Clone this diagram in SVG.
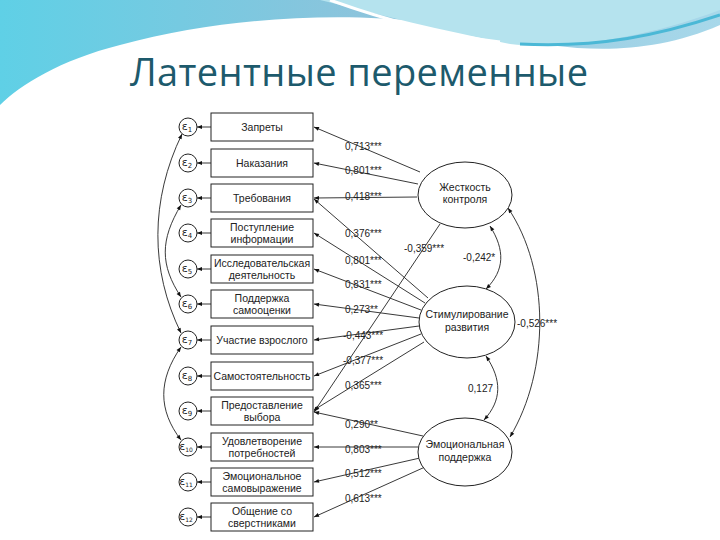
<svg xmlns="http://www.w3.org/2000/svg" width="720" height="540" viewBox="0 0 720 540">
<defs>
<linearGradient id="g1" x1="0" y1="0" x2="1" y2="0"><stop offset="0" stop-color="#5fd0e6"/><stop offset="0.5" stop-color="#8cc4dc"/><stop offset="1" stop-color="#a8d8ea"/></linearGradient>
<marker id="ah" viewBox="0 0 10 10" refX="10" refY="5" markerWidth="7" markerHeight="5" orient="auto-start-reverse" markerUnits="userSpaceOnUse"><path d="M0,1 L10,5 L0,9 z" fill="#111"/></marker>
</defs>
<style>
.box{fill:#fff;stroke:#222;stroke-width:1}
.ell{fill:#fff;stroke:#222;stroke-width:1}
.t{font-family:"Liberation Sans",Arial,sans-serif;font-size:10.5px;fill:#222;text-anchor:middle}
.lt{font-family:"Liberation Sans",Arial,sans-serif;font-size:10px;fill:#222}
.e{font-family:"DejaVu Sans",sans-serif;font-size:11px;fill:#222;text-anchor:middle}
.c line,.c path{stroke:#222;stroke-width:0.9;fill:none}
.a{marker-end:url(#ah)}
.d{marker-start:url(#ah);marker-end:url(#ah)}
</style>
<rect width="720" height="540" fill="#fff"/>
<path d="M0,0 H720 V25 C640,60 560,50 500,35 C400,10 250,10 120,45 C60,60 20,85 0,105 Z" fill="url(#g1)"/>
<path d="M320,0 C380,15 440,30 510,44 C560,50 640,40 720,10 V0 Z" fill="#b5e3ee"/>
<path d="M330,0 C380,18 440,35 500,42" stroke="#fff" stroke-width="3" fill="none"/>
<path d="M520,44 C600,48 660,35 720,15" stroke="#4bb8d6" stroke-width="3" fill="none"/>
<text x="130" y="86" font-family="'Open Sans','Noto Sans',sans-serif" font-size="38" fill="#1d5a6c" textLength="458">Латентные переменные</text>

<g class="c" id="connectors">
<line class="a" x1="420" y1="172" x2="314" y2="127"/>
<line class="a" x1="418" y1="184" x2="314" y2="163"/>
<line class="a" x1="417" y1="197" x2="314" y2="198"/>
<line class="a" x1="428" y1="298" x2="314" y2="199"/>
<line class="a" x1="425" y1="303" x2="314" y2="233"/>
<line class="a" x1="421" y1="310" x2="314" y2="269"/>
<line class="a" x1="419" y1="318" x2="314" y2="304"/>
<line class="a" x1="419" y1="326" x2="314" y2="340"/>
<line class="a" x1="421" y1="334" x2="314" y2="376"/>
<line class="a" x1="424" y1="342" x2="314" y2="410"/>
<line class="a" x1="440" y1="224" x2="314" y2="412"/>
<line class="a" x1="423" y1="436" x2="314" y2="412"/>
<line class="a" x1="418" y1="447" x2="314" y2="447"/>
<line class="a" x1="420" y1="458" x2="314" y2="482"/>
<line class="a" x1="425" y1="467" x2="314" y2="517"/>
<line class="a" x1="211" y1="127" x2="197" y2="127"/>
<line class="a" x1="211" y1="163" x2="197" y2="163"/>
<line class="a" x1="211" y1="198" x2="197" y2="198"/>
<line class="a" x1="211" y1="233" x2="197" y2="233"/>
<line class="a" x1="211" y1="269" x2="197" y2="269"/>
<line class="a" x1="211" y1="304" x2="197" y2="304"/>
<line class="a" x1="211" y1="340" x2="197" y2="340"/>
<line class="a" x1="211" y1="376" x2="197" y2="376"/>
<line class="a" x1="211" y1="411" x2="197" y2="411"/>
<line class="a" x1="211" y1="447" x2="197" y2="447"/>
<line class="a" x1="211" y1="482" x2="197" y2="482"/>
<line class="a" x1="211" y1="517" x2="197" y2="517"/>
<path class="d" d="M182,134 C150,200 150,270 181,333"/>
<path class="d" d="M181,205 C160,240 160,265 181,297"/>
<path class="d" d="M181,347 C158,380 158,410 181,440"/>
<path class="d" d="M490,226 C505,250 505,270 486,289"/>
<path class="d" d="M486,356 C502,380 502,400 484,420"/>
<path class="d" d="M508,208 C550,270 550,370 510,437"/>
</g>
<g id="labels" class="lt">
<text x="345" y="150">0,713***</text>
<text x="345" y="174">0,801***</text>
<text x="345" y="200">0,418***</text>
<text x="345" y="237">0,376***</text>
<text x="404" y="252">-0,359***</text>
<text x="463" y="261">-0,242*</text>
<text x="345" y="264">0,801***</text>
<text x="345" y="288">0,831***</text>
<text x="345" y="313">0,273**</text>
<text x="343" y="339">-0,443***</text>
<text x="343" y="364">-0,377***</text>
<text x="345" y="389">0,365***</text>
<text x="468" y="392">0,127</text>
<text x="517" y="327">-0,526***</text>
<text x="345" y="428">0,290**</text>
<text x="345" y="453">0,803***</text>
<text x="345" y="477">0,512***</text>
<text x="345" y="502">0,613***</text>
</g>
<g id="e1"><circle cx="188" cy="127" r="9" class="ell"/><text class="e" x="187" y="130">ε<tspan font-size="7" dy="2">1</tspan></text></g>
<g id="e2"><circle cx="188" cy="163" r="9" class="ell"/><text class="e" x="187" y="166">ε<tspan font-size="7" dy="2">2</tspan></text></g>
<g id="e3"><circle cx="188" cy="198" r="9" class="ell"/><text class="e" x="187" y="201">ε<tspan font-size="7" dy="2">3</tspan></text></g>
<g id="e4"><circle cx="188" cy="233" r="9" class="ell"/><text class="e" x="187" y="236">ε<tspan font-size="7" dy="2">4</tspan></text></g>
<g id="e5"><circle cx="188" cy="269" r="9" class="ell"/><text class="e" x="187" y="272">ε<tspan font-size="7" dy="2">5</tspan></text></g>
<g id="e6"><circle cx="188" cy="304" r="9" class="ell"/><text class="e" x="187" y="307">ε<tspan font-size="7" dy="2">6</tspan></text></g>
<g id="e7"><circle cx="188" cy="340" r="9" class="ell"/><text class="e" x="187" y="343">ε<tspan font-size="7" dy="2">7</tspan></text></g>
<g id="e8"><circle cx="188" cy="376" r="9" class="ell"/><text class="e" x="187" y="379">ε<tspan font-size="7" dy="2">8</tspan></text></g>
<g id="e9"><circle cx="188" cy="411" r="9" class="ell"/><text class="e" x="187" y="414">ε<tspan font-size="7" dy="2">9</tspan></text></g>
<g id="e10"><circle cx="188" cy="447" r="9" class="ell"/><text class="e" x="186" y="450">ε<tspan font-size="6" dy="2">10</tspan></text></g>
<g id="e11"><circle cx="188" cy="482" r="9" class="ell"/><text class="e" x="186" y="485">ε<tspan font-size="6" dy="2">11</tspan></text></g>
<g id="e12"><circle cx="188" cy="517" r="9" class="ell"/><text class="e" x="186" y="520">ε<tspan font-size="6" dy="2">12</tspan></text></g>

<g id="n1"><rect class="box" x="211" y="113" width="102" height="28"/><text class="t" x="262" y="131">Запреты</text></g>
<g id="n2"><rect class="box" x="211" y="149" width="102" height="28"/><text class="t" x="262" y="167">Наказания</text></g>
<g id="n3"><rect class="box" x="211" y="184" width="102" height="28"/><text class="t" x="262" y="202">Требования</text></g>
<g id="n4"><rect class="box" x="211" y="219" width="102" height="28"/><text class="t" x="262" y="231">Поступление</text><text class="t" x="262" y="243">информации</text></g>
<g id="n5"><rect class="box" x="211" y="255" width="102" height="28"/><text class="t" x="262" y="267">Исследовательская</text><text class="t" x="262" y="279">деятельность</text></g>
<g id="n6"><rect class="box" x="211" y="290" width="102" height="28"/><text class="t" x="262" y="302">Поддержка</text><text class="t" x="262" y="314">самооценки</text></g>
<g id="n7"><rect class="box" x="211" y="326" width="102" height="28"/><text class="t" x="262" y="344">Участие взрослого</text></g>
<g id="n8"><rect class="box" x="211" y="362" width="102" height="28"/><text class="t" x="262" y="380">Самостоятельность</text></g>
<g id="n9"><rect class="box" x="211" y="397" width="102" height="28"/><text class="t" x="262" y="409">Предоставление</text><text class="t" x="262" y="421">выбора</text></g>
<g id="n10"><rect class="box" x="211" y="433" width="102" height="28"/><text class="t" x="262" y="445">Удовлетворение</text><text class="t" x="262" y="457">потребностей</text></g>
<g id="n11"><rect class="box" x="211" y="468" width="102" height="28"/><text class="t" x="262" y="480">Эмоциональное</text><text class="t" x="262" y="492">самовыражение</text></g>
<g id="n12"><rect class="box" x="211" y="503" width="102" height="28"/><text class="t" x="262" y="515">Общение со</text><text class="t" x="262" y="527">сверстниками</text></g>

<g id="L1"><ellipse class="ell" cx="465" cy="195" rx="47" ry="33"/><text class="t" x="465" y="191">Жесткость</text><text class="t" x="465" y="203">контроля</text></g>
<g id="L2"><ellipse class="ell" cx="467" cy="322" rx="48" ry="36"/><text class="t" x="467" y="318">Стимулирование</text><text class="t" x="467" y="331">развития</text></g>
<g id="L3"><ellipse class="ell" cx="465" cy="452" rx="47" ry="34"/><text class="t" x="465" y="448">Эмоциональная</text><text class="t" x="465" y="461">поддержка</text></g>
</svg>
